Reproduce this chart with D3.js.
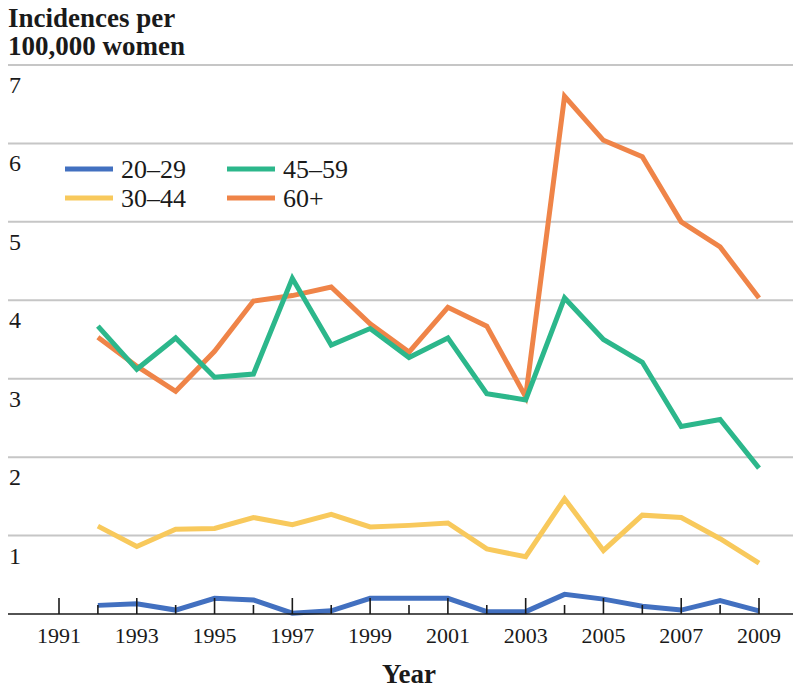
<!DOCTYPE html>
<html>
<head>
<meta charset="utf-8">
<script src="https://cdn.jsdelivr.net/npm/d3@7"></script>
<style>
  body { margin: 0; background: #fff; }
  svg text { font-family: "Liberation Serif", "Times New Roman", serif; fill: #1a1a1a; }
</style>
</head>
<body>
<div id="chart"></div>
<script>
const years = d3.range(1992, 2010);
const tickYears = d3.range(1991, 2010);
const yTicks = [1, 2, 3, 4, 5, 6, 7];
const seriesNames = ["20–29", "30–44", "45–59", "60+"];
const seriesColors = ["#4270c0", "#f8c95c", "#2cb78b", "#ef8448"];
const age20_29 = [0.11, 0.13, 0.05, 0.2, 0.18, 0.01, 0.04, 0.2, 0.2, 0.2, 0.03, 0.03, 0.25, 0.19, 0.1, 0.05, 0.17, 0.04];
const age30_44 = [1.12, 0.86, 1.08, 1.09, 1.23, 1.14, 1.27, 1.11, 1.13, 1.16, 0.83, 0.73, 1.47, 0.81, 1.26, 1.23, 0.96, 0.65];
const age45_59 = [3.67, 3.12, 3.52, 3.02, 3.06, 4.28, 3.43, 3.64, 3.27, 3.52, 2.81, 2.73, 4.03, 3.5, 3.21, 2.39, 2.48, 1.86];
const age60plus = [3.53, 3.16, 2.84, 3.35, 3.99, 4.06, 4.17, 3.7, 3.34, 3.91, 3.67, 2.77, 6.6, 6.04, 5.83, 5.0, 4.68, 4.03];

(function() {
    const width = 800,
          height = 691;
    const svg = d3.select("#chart")
        .append("svg")
        .attr("width", width)
        .attr("height", height)
        .attr("font-family", "'Liberation Serif', 'Times New Roman', serif");

    const x = d3.scaleLinear().domain([1991, 2009]).range([59, 759]);
    const y = d3.scaleLinear().domain([0, 7]).range([614, 65]);
    const left = 8, right = 793;

    // title
    const title = svg.append("text")
        .attr("x", left)
        .attr("font-weight", "bold")
        .attr("font-size", 27);
    title.append("tspan").attr("x", left).attr("y", 27).text("Incidences per");
    title.append("tspan").attr("x", left).attr("y", 55).text("100,000 women");

    // gridlines + y labels
    svg.selectAll(".grid")
        .data(yTicks)
        .enter().append("line")
        .attr("class", "grid")
        .attr("x1", left).attr("x2", right)
        .attr("y1", d => y(d)).attr("y2", d => y(d))
        .attr("stroke", "#c6c6c6")
        .attr("stroke-width", 2);

    svg.selectAll(".ylab")
        .data(yTicks)
        .enter().append("text")
        .attr("class", "ylab")
        .attr("x", 9)
        .attr("y", d => y(d) + 28)
        .attr("font-size", 24)
        .text(d => d);

    // lines
    const series = [age20_29, age30_44, age45_59, age60plus];
    const line = d3.line()
        .x((d, i) => x(years[i]))
        .y(d => y(d));

    // draw order: yellow, blue, orange, green
    [1, 0, 3, 2].forEach(k => {
        svg.append("path")
            .datum(series[k])
            .attr("d", line)
            .attr("fill", "none")
            .attr("stroke", seriesColors[k])
            .attr("stroke-width", 5)
            .attr("stroke-linejoin", "miter");
    });

    // x axis
    svg.append("line")
        .attr("x1", left).attr("x2", right)
        .attr("y1", y(0)).attr("y2", y(0))
        .attr("stroke", "#1a1a1a")
        .attr("stroke-width", 1.6);

    svg.selectAll(".xtick")
        .data(tickYears)
        .enter().append("line")
        .attr("class", "xtick")
        .attr("x1", d => x(d)).attr("x2", d => x(d))
        .attr("y1", y(0))
        .attr("y2", d => d % 2 === 1 ? y(0) - 16 : y(0) - 9)
        .attr("stroke", "#1a1a1a")
        .attr("stroke-width", 1.6);

    svg.selectAll(".xlab")
        .data(tickYears.filter(d => d % 2 === 1))
        .enter().append("text")
        .attr("class", "xlab")
        .attr("x", d => x(d))
        .attr("y", 643)
        .attr("text-anchor", "middle")
        .attr("font-size", 22)
        .text(d => d);

    svg.append("text")
        .attr("x", 409)
        .attr("y", 683)
        .attr("text-anchor", "middle")
        .attr("font-weight", "bold")
        .attr("font-size", 27)
        .text("Year");

    // legend
    const legendPos = [[65, 169], [65, 198], [227, 169], [227, 198]];
    const legend = svg.selectAll(".legend")
        .data(seriesNames)
        .enter().append("g")
        .attr("class", "legend")
        .attr("transform", (d, i) => `translate(${legendPos[i][0]},${legendPos[i][1]})`);

    legend.append("line")
        .attr("x1", 0).attr("x2", 48)
        .attr("stroke", (d, i) => seriesColors[i])
        .attr("stroke-width", 5);

    legend.append("text")
        .attr("x", 56)
        .attr("y", 9)
        .attr("font-size", 26)
        .text(d => d);
})();
</script>
</body>
</html>
